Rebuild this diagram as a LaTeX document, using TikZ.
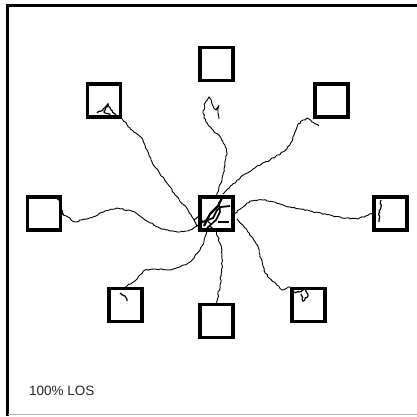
\documentclass[tikz,border=0pt]{standalone}
\usepackage{fontspec}
\setmainfont{Liberation Sans}
\usetikzlibrary{decorations.pathmorphing}
\begin{document}
\begin{tikzpicture}[x=1pt,y=-1pt,
  room/.style={draw=black,line width=3.4pt,minimum size=33pt,inner sep=0pt,fill=none},
  wig/.style={draw=black,line width=0.9pt,decorate,decoration={random steps,segment length=2.2pt,amplitude=0.7pt}},
  scrib/.style={draw=black,line width=1.2pt,decorate,decoration={random steps,segment length=1.8pt,amplitude=0.8pt}}]
\useasboundingbox (0,0) rectangle (417,416);
\pgfmathsetseed{7}
% frame
\draw[line width=3pt] (417,5.5) -- (7.5,5.5) -- (7.5,416);
\draw[line width=1.2pt,gray!60] (7.5,414.5) -- (417,414.5);
% rooms
\node[room] (c)  at (216.5,213.5) {};
\node[room] (n)  at (216.5,64) {};
\node[room] (nw) at (104,100.5) {};
\node[room] (ne) at (331.5,100.5) {};
\node[room] (w)  at (44,213.5) {};
\node[room] (e)  at (390.5,213.5) {};
\node[room] (sw) at (125.5,305) {};
\node[room] (s)  at (216.5,321) {};
\node[room] (se) at (308.5,305) {};
% paths
\draw[wig] (c.north) -- (222,180) -- (225,165) -- (227,153) -- (225,145) -- (221,138) -- (213,130) -- (206,122) -- (203,113) -- (205,103) -- (209,97) -- (213,106) -- (216,110) -- (219,105) -- (218,112) -- (219,119);
\draw[wig] (194,220) -- (184,205) -- (175,195) -- (167,183) -- (159,172) -- (152,162) -- (147,150) -- (143,140) -- (136,133) -- (130,128) -- (nw.south east);
\draw[scrib] (97,113) -- (103,110) -- (108,104) -- (111,110) -- (116,115);
\draw[scrib] (108,104) -- (104,112) -- (110,115);
\draw[wig] (223,194) -- (232,185) -- (240,178) -- (256,167) -- (270,160) -- (283,152) -- (290,145) -- (294,135) -- (298,124) -- (307,118) -- (312,122) -- (319,126);
\draw[wig] (c.east) -- (250,201) -- (263,200) -- (275,202) -- (288,207) -- (310,211) -- (333,216) -- (346,218) -- (358,219) -- (e.west);
\draw[scrib] (381,200) -- (381,207) -- (379,213) -- (379,222);
\draw[wig] (197,226) -- (188,231) -- (180,232) -- (170,231) -- (160,228) -- (147,221) -- (135,212) -- (117,208) -- (105,211) -- (93,217) -- (75,222) -- (w.east);
\draw[scrib] (w.east) -- (63,214) -- (61,206) -- (60,201) -- (57,199);
\draw[wig] (207,231) -- (204,242) -- (200,250) -- (190,262) -- (180,267) -- (168,270) -- (155,269) -- (145,270) -- (136,280) -- (sw.north);
\draw[scrib] (120,293) -- (125,296) -- (127,301);
\draw[wig] (c.south) -- (222,250) -- (222,265) -- (220,285) -- (217,301) -- (s.north);
\draw[wig] (237,219) -- (245,228) -- (252,237) -- (258,246) -- (260,255) -- (263,266) -- (265,273) -- (274,282) -- (282,290) -- (se.north west);
\draw[scrib] (294,292) -- (299,292) -- (306,289) -- (308,296) -- (303,301) -- (301,294);
% center tangle
\draw[line width=2.2pt] (204,226) -- (210,214) -- (218,206) -- (222,198);
\draw[line width=1.8pt] (200,223) -- (213,218) -- (217,210) -- (221,207) -- (230,206);
\draw[line width=1.6pt] (207,228) -- (216,220) -- (220,212) -- (219,202);
\draw[line width=1.1pt] (194,220) -- (199,216) -- (203,222) -- (197,226) -- (194,220);
\draw[line width=1.1pt] (205,230) -- (210,226) -- (214,230);
\draw[line width=1.1pt] (218,222) -- (229,222);
\draw[line width=1.1pt] (211,224) -- (206,220) -- (212,212);
% label
\node[anchor=west,inner sep=0pt,font=\fontsize{13.5}{15}\selectfont,text=black!85] (lbl) at (29,391) {100\% LOS};
\end{tikzpicture}
\end{document}
